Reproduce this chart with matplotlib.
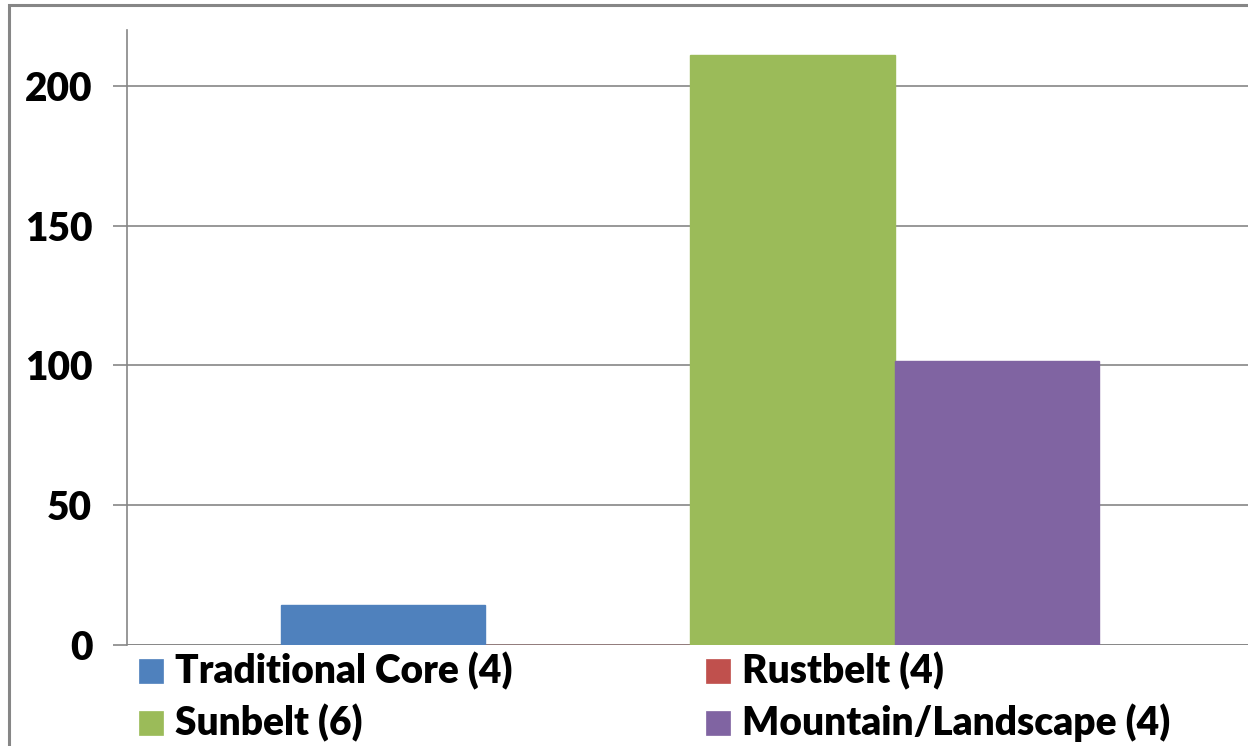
import matplotlib
matplotlib.use("Agg")
import matplotlib.pyplot as plt
from matplotlib.patches import Rectangle

# Region types with number of cases, and their values
categories = ["Traditional Core (4)", "Rustbelt (4)", "Sunbelt (6)", "Mountain/Landscape (4)"]
values = [14.3, 0.0, 210.9, 101.7]
colors = ["#4F81BD", "#C0504D", "#9BBB59", "#8064A2"]
yticks = [0, 50, 100, 150, 200]

plt.rcParams["font.family"] = ["Lato", "DejaVu Sans"]
WEIGHT = "heavy"
FS = 28

W, H = 1248, 746
fig = plt.figure(figsize=(W / 100, H / 100), dpi=100)

# outer chart frame (continues past the right and bottom edges)
fig.patches.append(Rectangle((9 / W, -0.05), 1.1, 1 - 5 / H + 0.05,
                             transform=fig.transFigure, fill=False,
                             edgecolor="#868686", linewidth=2.2))

ax = fig.add_axes([127 / W, 1 - 645 / H, 1126 / W, (645 - 30) / H])

# one category, four clustered bars (gap width 150%)
n = len(values)
bar_w = 1.0 / (n + 1.5)
start = -n * bar_w / 2
for i, (lab, v, c) in enumerate(zip(categories, values, colors)):
    ax.bar(start + (i + 0.5) * bar_w, v, width=bar_w, color=c,
           edgecolor=c, linewidth=1.0, label=lab, zorder=3)

ax.set_xlim(-0.5, 0.5)
ax.set_ylim(0, 220)
ax.set_yticks(yticks)
ax.set_xticks([])
ax.grid(axis="y", color="#868686", linewidth=1.2, zorder=0)
for s in ["top", "right", "bottom"]:
    ax.spines[s].set_visible(False)
ax.spines["left"].set_color("#868686")
ax.spines["left"].set_linewidth(1.2)
ax.axhline(0, color="#868686", linewidth=1.2, zorder=2)
ax.tick_params(axis="y", direction="out", length=10, width=1.2, color="#868686",
               pad=15, labelsize=FS)
for t in ax.get_yticklabels():
    t.set_fontweight(WEIGHT)

# legend: two columns, filled row by row, below the plot
col_x = [139, 706]
row_y = [683, 735]
sw = 24
for i, (lab, c) in enumerate(zip(categories, colors)):
    x0 = col_x[i % 2]
    yb = row_y[i // 2]
    fig.add_artist(Rectangle((x0 / W, 1 - yb / H), sw / W, sw / H,
                             transform=fig.transFigure, facecolor=c,
                             edgecolor=c, linewidth=0.5))
    fig.text((x0 + sw + 12) / W, 1 - yb / H, lab, fontsize=FS,
             fontweight=WEIGHT, ha="left", va="baseline", color="black")

fig.savefig("out.png", dpi=100)
